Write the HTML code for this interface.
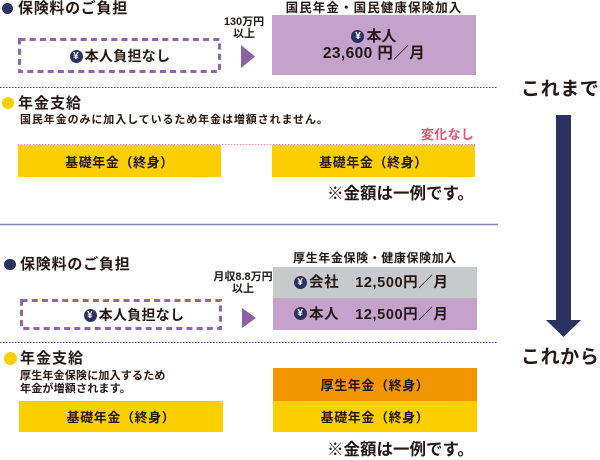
<!DOCTYPE html>
<html><head><meta charset="utf-8"><style>
*{margin:0;padding:0;box-sizing:border-box}
body{width:600px;height:458px;position:relative;background:#fff;overflow:hidden;font-family:"Liberation Sans","Noto Sans CJK JP",sans-serif;font-weight:bold;color:#231815}
.a{position:absolute;white-space:nowrap}
.t{position:absolute;white-space:nowrap;line-height:20px;height:20px}
.c{text-align:center}
.dot{position:absolute;border-radius:50%}
.yen{display:inline-block;width:13px;height:13px;border-radius:50%;background:#2b3262;color:#fff;font-size:10px;line-height:13px;text-align:center;vertical-align:middle;margin-right:2px;position:relative;top:-1px;font-family:"Liberation Sans",sans-serif}
.box{position:absolute;display:flex;align-items:center;justify-content:center}
</style></head><body>

<!-- top section -->
<div class="dot" style="left:1.5px;top:3px;width:11px;height:11px;background:#2b3262"></div>
<div class="t" style="left:18px;top:-1.5px;font-size:15px;letter-spacing:0.7px">保険料のご負担</div>

<div class="t c" style="left:272px;width:204px;top:-2.5px;font-size:12.5px;letter-spacing:1.1px">国民年金・国民健康保険加入</div>

<div class="t c" style="left:214px;width:60px;top:12px;font-size:11px;line-height:20px">130万円</div>
<div class="t c" style="left:214px;width:60px;top:24px;font-size:11px">以上</div>

<svg class="a" style="left:0;top:0" width="600" height="458">
  <rect x="19.5" y="39.5" width="200" height="32" fill="none" stroke="#8d66ad" stroke-width="3" stroke-dasharray="6 4.2"/>
  <rect x="21.5" y="300.5" width="199" height="28" fill="none" stroke="#8d66ad" stroke-width="3" stroke-dasharray="6 4.2"/>
  <polygon points="241,45 255,56.5 241,68" fill="#8c5fa7"/>
  <polygon points="242,308 256,318 242,328" fill="#8c5fa7"/>
  <line x1="0" y1="87.5" x2="498" y2="87.5" stroke="#3b3f7a" stroke-width="1" stroke-dasharray="1.5 1.5"/>
  <line x1="0" y1="342.5" x2="498" y2="342.5" stroke="#3b3f7a" stroke-width="1" stroke-dasharray="1.5 1.5"/>
  <line x1="18" y1="144.5" x2="475" y2="144.5" stroke="#ef8f9c" stroke-width="1" stroke-dasharray="1.5 1.5"/>
  <line x1="0" y1="224.5" x2="498" y2="224.5" stroke="#8581b3" stroke-width="1.6"/>
  <rect x="556" y="115" width="15" height="206" fill="#2b3262"/>
  <polygon points="546,320 581,320 563.5,337" fill="#2b3262"/>
</svg>

<div class="t c" style="left:19px;width:202px;top:46px;font-size:14px;letter-spacing:0.3px"><span class="yen">¥</span>本人負担なし</div>

<div class="a" style="left:272px;top:15px;width:204px;height:60px;background:#c4a2cb"></div>
<div class="t c" style="left:272px;width:204px;top:27px;font-size:15px"><span class="yen">¥</span>本人</div>
<div class="t c" style="left:272px;width:204px;top:43.5px;font-size:15.5px;letter-spacing:0.4px">23,600 円／月</div>

<div class="t" style="left:521px;top:79px;font-size:19px;line-height:22px;height:22px;letter-spacing:0.6px">これまで</div>

<div class="dot" style="left:2px;top:97px;width:12px;height:12px;background:#fcd000"></div>
<div class="t" style="left:18px;top:93.5px;font-size:15px;letter-spacing:1px">年金支給</div>
<div class="t" style="left:20px;top:110px;font-size:11px;letter-spacing:0.9px">国民年金のみに加入しているため年金は増額されません。</div>

<div class="t" style="left:421px;top:125px;font-size:13px;color:#e8556a;letter-spacing:0.3px">変化なし</div>

<div class="box" style="left:18px;top:145px;width:203px;height:32px;background:#fcd000;font-size:13px;letter-spacing:0.6px">基礎年金（終身）</div>
<div class="box" style="left:272px;top:145px;width:203px;height:32px;background:#fcd000;font-size:13px;letter-spacing:0.6px">基礎年金（終身）</div>

<div class="t" style="left:327px;top:184px;font-size:16.5px;letter-spacing:0px">※金額は一例です。</div>

<!-- bottom section -->
<div class="dot" style="left:4px;top:258.5px;width:11.5px;height:11.5px;background:#2b3262"></div>
<div class="t" style="left:20px;top:255px;font-size:15px;letter-spacing:0.8px">保険料のご負担</div>

<div class="t c" style="left:273px;width:204px;top:248px;font-size:12px;letter-spacing:0.6px">厚生年金保険・健康保険加入</div>

<div class="t c" style="left:212px;width:62px;top:267px;font-size:11px">月収8.8万円</div>
<div class="t c" style="left:212px;width:62px;top:278.5px;font-size:11px">以上</div>

<div class="a" style="left:273px;top:267px;width:204px;height:31px;background:#c8c9ca"></div>
<div class="a" style="left:273px;top:298px;width:204px;height:32px;background:#c4a2cb"></div>
<div class="t" style="left:294px;top:273px;font-size:14.5px;letter-spacing:0.6px"><span class="yen">¥</span>会社<span style="display:inline-block;width:16px"></span>12,500円／月</div>
<div class="t" style="left:294px;top:304.5px;font-size:14.5px;letter-spacing:0.6px"><span class="yen">¥</span>本人<span style="display:inline-block;width:16px"></span>12,500円／月</div>

<div class="t c" style="left:33px;width:202px;top:305px;font-size:14px;letter-spacing:0.3px"><span class="yen">¥</span>本人負担なし</div>

<div class="t" style="left:521px;top:347px;font-size:19px;line-height:22px;height:22px;letter-spacing:0.6px">これから</div>

<div class="dot" style="left:4px;top:352px;width:12.5px;height:12.5px;background:#fcd000"></div>
<div class="t" style="left:20px;top:349px;font-size:15px;letter-spacing:1px">年金支給</div>
<div class="t" style="left:20px;top:366px;font-size:11px;letter-spacing:0.2px">厚生年金保険に加入するため</div>
<div class="t" style="left:20px;top:379px;font-size:11px;letter-spacing:0.2px">年金が増額されます。</div>

<div class="box" style="left:273px;top:368px;width:204px;height:33px;background:#f19600;font-size:13px;letter-spacing:0.6px">厚生年金（終身）</div>
<div class="box" style="left:273px;top:401px;width:204px;height:31px;background:#fcd000;font-size:13px;letter-spacing:0.6px">基礎年金（終身）</div>
<div class="box" style="left:19px;top:401px;width:204px;height:31px;background:#fcd000;font-size:13px;letter-spacing:0.6px">基礎年金（終身）</div>

<div class="t" style="left:327px;top:439.5px;font-size:16.5px;letter-spacing:0px">※金額は一例です。</div>

</body></html>
